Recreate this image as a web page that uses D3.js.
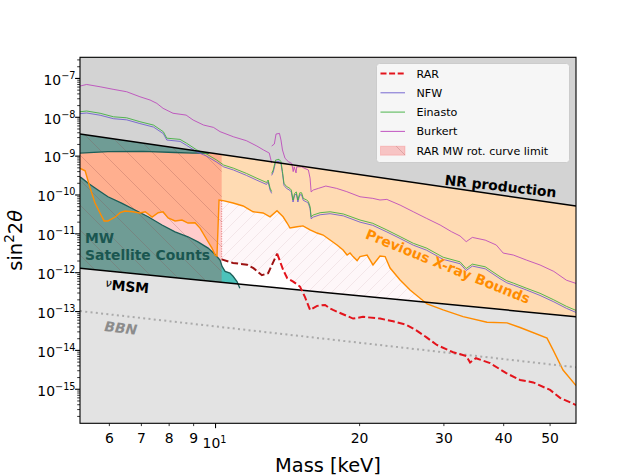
<!DOCTYPE html>
<html><head><meta charset="utf-8">
<script src="https://cdn.jsdelivr.net/npm/d3@7"></script>
<style>body{margin:0;background:#fff}svg{display:block;font-family:"DejaVu Sans",sans-serif}</style>
</head><body><svg id="c" width="640" height="476"></svg>
<script>
// ---------------- data ----------------
const massDomain = [5.21, 56.64];
const sinDomain = [1.33e-16, 3.5e-7];

const xMajorTicks = [10];
const xMinorLabels = [6, 7, 8, 9, 20, 30, 40, 50];
const yTickExps = [-15, -14, -13, -12, -11, -10, -9, -8, -7];

const nrMass = [5.21, 56.64];
const nrVals = [3.71e-9, 5.2e-11];
const vmsmMass = [5.21, 17.35, 56.64];
const vmsmVals = [1.30e-12, 3.0e-13, 7.38e-14];
const bbnMass = [5.21, 56.64];
const bbnVals = [1.03e-13, 3.68e-15];

const xrayMass = [5.21,5.26,5.34,5.47,5.60,5.74,5.85,5.96,6.17,6.32,6.47,6.72,6.95,7.13,7.37,7.59,7.77,7.96,8.23,8.51,8.76,9.06,9.28,9.60,9.83,9.98,10.07,10.17,10.37,10.88,11.42,11.98,12.57,13.0,13.44,13.84,14.11,14.31,14.8,15.23,15.76,16.3,16.78,17.35,17.94,18.47,18.83,19.1,19.38,19.76,20.04,20.73,21.33,22.06,22.61,23.16,24.3,25.49,27.67,29.89,32.9,36.92,40.66,43.28,49.27,50.72,53.21,56.64];
const xrayVals = [4.86e-10,4.6e-10,4.2e-10,1.51e-10,6.22e-11,3.4e-11,2.15e-11,2.15e-11,2.71e-11,3.5e-11,3.87e-11,3.7e-11,3.44e-11,3.7e-11,2.71e-11,3.5e-11,3.7e-11,2.56e-11,2.15e-11,2.27e-11,1.9e-11,1.93e-11,1.41e-11,6.94e-12,4.32e-12,2.85e-12,2.69e-12,7.43e-11,7.15e-11,6.22e-11,5.21e-11,3.7e-11,3.44e-11,2.75e-11,3.95e-11,2.75e-11,1.9e-11,1.41e-11,1.52e-11,1.6e-11,1.26e-11,1.05e-11,9.33e-12,6.94e-12,5.16e-12,3.84e-12,2.85e-12,3.21e-12,2.6e-12,2.05e-12,2.6e-12,2.85e-12,1.58e-12,2.69e-12,2.6e-12,1.32e-12,6.49e-13,3.59e-13,1.57e-13,1.1e-13,7.4e-14,5.3e-14,5.1e-14,3.88e-14,2.07e-14,1.03e-14,3.13e-15,1.25e-15];

const satLowMass = [5.21,5.24,5.42,5.68,5.96,6.38,6.79,7.23,7.73,8.23,8.76,9.19,9.65,9.98,10.22,10.32,10.47,10.72,10.88,11.09,11.24];
const satLowVals = [2.9e-10,2.8e-10,2.0e-10,1.34e-10,9.0e-11,6.1e-11,4.11e-11,2.75e-11,1.69e-11,1.13e-11,8.4e-12,6.2e-12,4.3e-12,2.95e-12,2.12e-12,1.45e-12,1.08e-12,9.8e-13,8.1e-13,5.9e-13,4.0e-13];
const satTopMass = [5.21,5.96,7.06,8.23,8.97,9.7];
const satTopVals = [1.2e-9,1.3e-9,1.33e-9,1.24e-9,1.2e-9,1.2e-9];

const rotCurveLimitMass = 10.3;
const rarMass = [10.3,10.88,11.64,12.0,12.5,12.88,13.45,13.85,14.12,14.53,15.01,15.38,15.76,16.3,16.94,17.35,17.6,19.38,20.33,22.06,23.5,25.0,26.2,27.6,29.0,31.36,33.4,34.03,35.0,37.46,40.5,43.28,46.1,50.0,52.46,56.64];
const rarVals = [2.2e-12,1.78e-12,1.6e-12,1.31e-12,8.6e-13,9.7e-13,3.1e-12,1.17e-12,7.2e-13,5.9e-13,4.4e-13,2.35e-13,1.1e-13,1.4e-13,1.48e-13,1.2e-13,1.1e-13,6.6e-14,7.3e-14,6.6e-14,5.6e-14,4.6e-14,3.35e-14,2.17e-14,1.38e-14,9.0e-15,7.2e-15,4.9e-15,6.3e-15,4.7e-15,2.6e-15,1.73e-15,1.5e-15,9.6e-16,6.0e-16,3.94e-16];
const rarDarkCount = 7;

const einMass1 = [5.21,5.38,5.74,6.12,6.52,6.95,7.42,7.78,7.91,8.43,8.7,9.14,9.58,10.06,10.4,10.9,11.6,12.2,12.78,12.88,13.0,13.1];
const einVals1 = [1.39e-8,1.45e-8,1.27e-8,1.03e-8,9.7e-9,7.7e-9,6.3e-9,4.25e-9,2.9e-9,2.7e-9,2.15e-9,1.44e-9,1.13e-9,7.9e-10,5.9e-10,4.9e-10,3.6e-10,2.7e-10,2.1e-10,2.43e-10,1.5e-10,1.23e-10];
const nfwVals1 = [1.24e-8,1.29e-8,1.13e-8,9.2e-9,8.6e-9,6.9e-9,5.6e-9,3.8e-9,2.6e-9,2.4e-9,1.9e-9,1.28e-9,1.0e-9,7.0e-10,5.3e-10,4.4e-10,3.2e-10,2.4e-10,1.87e-10,2.16e-10,1.34e-10,1.1e-10];
const einMass2 = [13.1,13.2,13.35,13.57,13.7,13.8,13.9,14.07,14.3,14.4,14.52,14.63,14.75,14.86,15.0,15.13,15.25,15.5,15.63,15.76,15.84,16.0,16.54,17.35,18.5,20.04,21.3,22.8,24.3,25.9,27.6,29.9,32.43,33.4,34.4,36.6,39.3,40.6,41.9,44.6,47.64,50.9,54.1,56.64];
const einVals2 = [3.6e-10,4.4e-10,7.9e-10,8.3e-10,7.2e-10,4.0e-10,2.0e-10,1.66e-10,1.48e-10,1.34e-10,7.43e-11,1.1e-10,1.2e-10,7.43e-11,1.14e-10,1.14e-10,8.2e-11,7.43e-11,6.8e-11,5.0e-11,2.75e-11,3.05e-11,3.5e-11,3.7e-11,3.24e-11,2.27e-11,1.87e-11,1.26e-11,8.5e-12,5.7e-12,4.3e-12,2.5e-12,1.9e-12,1.28e-12,1.66e-12,1.42e-12,7.9e-13,6.2e-13,5.4e-13,4.0e-13,2.95e-13,2.0e-13,1.36e-13,1.07e-13];
const nfwVals2 = [3.2e-10,3.9e-10,7.0e-10,7.4e-10,6.4e-10,3.6e-10,1.78e-10,1.48e-10,1.32e-10,1.19e-10,6.6e-11,9.8e-11,1.07e-10,6.6e-11,1.01e-10,1.01e-10,7.3e-11,6.6e-11,6.1e-11,4.45e-11,2.45e-11,2.7e-11,3.1e-11,3.3e-11,2.9e-11,2.0e-11,1.66e-11,1.12e-11,7.6e-12,5.1e-12,3.8e-12,2.2e-12,1.7e-12,1.14e-12,1.48e-12,1.26e-12,7.0e-13,5.5e-13,4.8e-13,3.6e-13,2.6e-13,1.78e-13,1.21e-13,9.5e-14];

const burMass1 = [5.21,5.38,5.74,6.11,6.52,6.95,7.30,7.54,7.77,8.15,8.68,8.98,9.44,9.9,10.22,10.9,11.6,12.2,12.6,12.95,13.1];
const burVals1 = [6.37e-8,7.0e-8,6.1e-8,5.25e-8,4.55e-8,3.38e-8,2.78e-8,2.28e-8,1.7e-8,1.27e-8,1.14e-8,8.5e-9,6.32e-9,5.5e-9,4.27e-9,3.15e-9,2.5e-9,1.82e-9,1.44e-9,1.2e-9,6.65e-10];
const burMass2 = [13.1,13.27,13.38,13.6,13.7,13.8,13.97,14.2,14.43,14.53,14.6,14.73,14.78,15.13,15.38,15.63,15.76,15.84,16.0,16.4,17.0,17.9,18.8,20.04,21.3,22.06,22.8,24.3,25.9,27.6,29.46,31.1,32.43,33.4,34.4,36.6,38.6,39.9,41.9,44.6,47.64,50.9,54.1,56.64];
const burVals2 = [1.82e-9,2.05e-9,3.71e-9,3.85e-9,2.6e-9,1.44e-9,8.8e-10,7.2e-10,6.5e-10,4.0e-10,5.3e-10,3.7e-10,5.3e-10,5.3e-10,4.8e-10,4.4e-10,2.7e-10,1.2e-10,1.34e-10,1.48e-10,1.7e-10,1.48e-10,1.22e-10,9.0e-11,8.2e-11,7.43e-11,7.7e-11,5.5e-11,3.7e-11,2.5e-11,1.69e-11,1.14e-11,8.8e-12,6.3e-12,8.1e-12,6.9e-12,5.16e-12,3.2e-12,2.85e-12,2.12e-12,1.58e-12,1.08e-12,6.4e-13,5.3e-13];

const legendLabels = ["RAR", "NFW", "Einasto", "Burkert", "RAR MW rot. curve limit"];

// ---------------- drawing ----------------
const L = 80, R = 576, T = 57.3, B = 423.3;
const x = d3.scaleLog().domain(massDomain).range([L, R]);
const y = d3.scaleLog().domain(sinDomain).range([B, T]);
const svg = d3.select('#c');
const defs = svg.append('defs');
defs.append('clipPath').attr('id', 'clip').append('rect')
  .attr('x', L).attr('y', T).attr('width', R - L).attr('height', B - T);

const pL = defs.append('pattern').attr('id', 'hatchL').attr('patternUnits', 'userSpaceOnUse')
  .attr('width', 25).attr('height', 25);
pL.append('path').attr('d', 'M0,0 L25,25 M-5,20 L5,30 M20,-5 L30,5')
  .attr('stroke', 'rgba(140,70,70,0.25)').attr('stroke-width', 1);
const pR = defs.append('pattern').attr('id', 'hatchR').attr('patternUnits', 'userSpaceOnUse')
  .attr('width', 12).attr('height', 12);
pR.append('path').attr('d', 'M0,12 L12,0 M-3,3 L3,-3 M9,15 L15,9')
  .attr('stroke', 'rgba(200,160,168,0.22)').attr('stroke-width', 0.9);

const pts = (ms, vs) => ms.map((m, i) => [x(m), y(vs[i])]);
const line = d3.line();
const poly = p => line(p) + 'Z';

const g = svg.append('g').attr('clip-path', 'url(#clip)');
g.append('rect').attr('x', L).attr('y', T).attr('width', R - L).attr('height', B - T).attr('fill', '#fff');

// RAR rot-curve hatched (right side)
const rarP = pts(rarMass, rarVals);
const hatchPoly = rarP.concat([[R, T], [x(rotCurveLimitMass), T]]);
g.append('path').attr('d', poly(hatchPoly)).attr('fill', 'rgba(230,60,90,0.04)');
g.append('path').attr('d', poly(hatchPoly)).attr('fill', 'url(#hatchR)');

// X-ray bounds
const xrayP = pts(xrayMass, xrayVals);
g.append('path').attr('d', poly(xrayP.concat([[R, T], [L, T]]))).attr('fill', '#ffdbb3');

// MW satellite counts
const satLowP = pts(satLowMass, satLowVals);
const satTopP = pts(satTopMass, satTopVals);
g.append('path').attr('d', poly(satLowP.concat([[satLowP[satLowP.length - 1][0], B], [L, B]]))).attr('fill', '#4cc3bb');
g.append('path').attr('d', poly(satTopP.concat([[satTopP[satTopP.length - 1][0], T], [L, T]]))).attr('fill', '#4cc3bb');

// RAR rot-curve limit (left side)
g.append('rect').attr('x', L).attr('y', T).attr('width', x(rotCurveLimitMass) - L).attr('height', B - T)
  .attr('fill', 'red').attr('fill-opacity', 0.2);
g.append('rect').attr('x', L).attr('y', T).attr('width', x(rotCurveLimitMass) - L).attr('height', B - T)
  .attr('fill', 'url(#hatchL)');

// grey excluded regions
const nrP = pts(nrMass, nrVals);
g.append('path').attr('d', poly([[L, T], [R, T], nrP[1], nrP[0]])).attr('fill', '#d3d3d3');
const vmP = pts(vmsmMass, vmsmVals);
g.append('path').attr('d', poly(vmP.concat([[R, B], [L, B]]))).attr('fill', '#e3e3e3');

// edges and curves
g.append('path').attr('d', line(satLowP)).attr('fill', 'none').attr('stroke', '#1c5e58').attr('stroke-width', 1.3);
g.append('path').attr('d', line(satTopP)).attr('fill', 'none').attr('stroke', '#1c5e58').attr('stroke-width', 1.3);
g.append('path').attr('d', line(xrayP)).attr('fill', 'none').attr('stroke', '#ff8c00').attr('stroke-width', 1.4);

const thin = (ms, vs, c) => g.append('path').attr('d', line(pts(ms, vs))).attr('fill', 'none')
  .attr('stroke', c).attr('stroke-width', 0.85);
const cNFW = '#6a5acd', cEin = '#3aae3a', cBur = '#bb44bb';
thin(einMass1, nfwVals1, cNFW); thin(einMass2, nfwVals2, cNFW);
thin(einMass1, einVals1, cEin); thin(einMass2, einVals2, cEin);
thin(burMass1, burVals1, cBur); thin(burMass2, burVals2, cBur);

g.append('path').attr('d', line(nrP)).attr('fill', 'none').attr('stroke', '#000').attr('stroke-width', 1.5);
g.append('path').attr('d', line(vmP)).attr('fill', 'none').attr('stroke', '#000').attr('stroke-width', 1.5);
g.append('path').attr('d', line(pts(bbnMass, bbnVals))).attr('fill', 'none').attr('stroke', '#aaaaaa')
  .attr('stroke-width', 2).attr('stroke-dasharray', '2,3.3');

// rot-curve limit edge (dotted)
g.append('line').attr('x1', x(rotCurveLimitMass)).attr('x2', x(rotCurveLimitMass))
  .attr('y1', y(rarVals[0])).attr('y2', y(xrayVals[28]))
  .attr('stroke', '#e06060').attr('stroke-width', 0.8).attr('stroke-dasharray', '1,1.5');

// RAR
g.append('path').attr('d', line(rarP.slice(0, rarDarkCount))).attr('fill', 'none')
  .attr('stroke', '#9c1212').attr('stroke-width', 2).attr('stroke-dasharray', '7,3');
g.append('path').attr('d', line(rarP.slice(rarDarkCount - 1))).attr('fill', 'none')
  .attr('stroke', '#e3141c').attr('stroke-width', 2).attr('stroke-dasharray', '7,3');

// annotations
const ann = svg.append('g').attr('font-weight', 'bold').attr('font-size', 13.9);
ann.append('text').attr('transform', 'translate(500,191) rotate(6.5)').attr('text-anchor', 'middle')
  .attr('fill', '#000').text('NR production');
ann.append('text').attr('transform', 'translate(446,271) rotate(22)').attr('text-anchor', 'middle')
  .attr('fill', '#ff8c00').text('Previous X-ray Bounds');
ann.append('text').attr('x', 85).attr('y', 243.3).attr('fill', '#1a5650').text('MW');
ann.append('text').attr('x', 85).attr('y', 260).attr('fill', '#1a5650').text('Satellite Counts');
const nu = ann.append('text').attr('transform', 'translate(105,289.5) rotate(5)').attr('fill', '#000');
nu.append('tspan').attr('font-style', 'italic').attr('font-weight', 'normal').attr('font-size', 11).attr('dy', -3).text('ν');
nu.append('tspan').attr('dy', 3).text('MSM');
ann.append('text').attr('transform', 'translate(104,331) rotate(6.5)').attr('font-style', 'italic')
  .attr('fill', '#8c8c8c').text('BBN');

// axes
const ax = svg.append('g');
ax.append('rect').attr('x', L).attr('y', T).attr('width', R - L).attr('height', B - T)
  .attr('fill', 'none').attr('stroke', '#000').attr('stroke-width', 1.1);
// y ticks
for (let k = -16; k <= -7; k++) {
  for (let j = 1; j <= 9; j++) {
    const v = j * Math.pow(10, k);
    if (v < sinDomain[0] || v > sinDomain[1]) continue;
    const yy = y(v);
    ax.append('line').attr('x1', L).attr('x2', L - (j === 1 ? 4.9 : 2.8)).attr('y1', yy).attr('y2', yy)
      .attr('stroke', '#000').attr('stroke-width', j === 1 ? 1.1 : 0.8);
  }
}
yTickExps.forEach(e => {
  const t = ax.append('text').attr('x', 75.5).attr('y', y(Math.pow(10, e)) + 6.3)
    .attr('text-anchor', 'end').attr('font-size', 13.9).attr('fill', '#000');
  t.append('tspan').text('10');
  t.append('tspan').attr('font-size', 9.7).attr('dy', -5.8).text('\u2212' + Math.abs(e));
});
// x ticks
xMinorLabels.forEach(m => {
  ax.append('line').attr('x1', x(m)).attr('x2', x(m)).attr('y1', B).attr('y2', B + 2.8)
    .attr('stroke', '#000').attr('stroke-width', 0.8);
  ax.append('text').attr('x', x(m)).attr('y', 442.7).attr('text-anchor', 'middle')
    .attr('font-size', 13.9).text(m);
});
xMajorTicks.forEach(m => {
  ax.append('line').attr('x1', x(m)).attr('x2', x(m)).attr('y1', B).attr('y2', B + 4.9)
    .attr('stroke', '#000').attr('stroke-width', 1.1);
  const t = ax.append('text').attr('x', x(m) - 1).attr('y', 448.3).attr('text-anchor', 'middle').attr('font-size', 13.9);
  t.append('tspan').text('10');
  t.append('tspan').attr('font-size', 9.7).attr('dy', -5.5).text(Math.round(Math.log10(m)));
});
// axis labels
ax.append('text').attr('x', (L + R) / 2).attr('y', 471.5).attr('text-anchor', 'middle')
  .attr('font-size', 19.4).text('Mass [keV]');
const yl = ax.append('text').attr('transform', `translate(21.5,${(T + B) / 2}) rotate(-90)`)
  .attr('text-anchor', 'middle').attr('font-size', 19.4);
yl.append('tspan').text('sin');
yl.append('tspan').attr('font-size', 13.6).attr('dy', -7.5).text('2');
yl.append('tspan').attr('dy', 7.5).text('2');
yl.append('tspan').attr('font-style', 'italic').text('θ');

// legend
const lg = svg.append('g');
lg.append('rect').attr('x', 376.5).attr('y', 63.5).attr('width', 193).attr('height', 99).attr('rx', 3)
  .attr('fill', '#fff').attr('fill-opacity', 0.8).attr('stroke', '#cccccc');
const ly = [73.5, 92.8, 112.1, 131.4, 150.7];
const lstyles = [
  {c: '#e3141c', w: 2, d: '6,2.6'}, {c: cNFW, w: 0.9}, {c: cEin, w: 0.9}, {c: cBur, w: 0.9}
];
lstyles.forEach((s, i) => {
  const l = lg.append('line').attr('x1', 380.5).attr('x2', 405).attr('y1', ly[i]).attr('y2', ly[i])
    .attr('stroke', s.c).attr('stroke-width', s.w);
  if (s.d) l.attr('stroke-dasharray', s.d);
});
lg.append('rect').attr('x', 380.5).attr('y', ly[4] - 4.5).attr('width', 24.5).attr('height', 9)
  .attr('fill', 'rgba(255,0,0,0.2)').attr('stroke', 'rgba(255,0,0,0.15)');
lg.append('rect').attr('x', 380.5).attr('y', ly[4] - 4.5).attr('width', 24.5).attr('height', 9)
  .attr('fill', 'url(#hatchL)');
legendLabels.forEach((t, i) => {
  lg.append('text').attr('x', 416.5).attr('y', ly[i] + 4).attr('font-size', 11.1).attr('fill', '#000').text(t);
});
</script></body></html>
